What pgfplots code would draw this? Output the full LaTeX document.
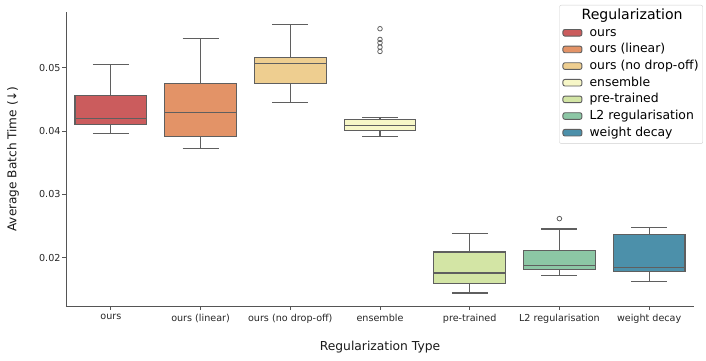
\documentclass[border=0pt]{standalone}
\usepackage{fontspec}
\setmainfont{DejaVu Sans}
\usepackage{pgfplots}
\pgfplotsset{compat=1.18}

% seaborn Spectral, desaturated to 0.75
\definecolor{cOurs}{RGB}{203,92,93}
\definecolor{cLin}{RGB}{227,147,103}
\definecolor{cNoDrop}{RGB}{238,206,144}
\definecolor{cEns}{RGB}{247,247,199}
\definecolor{cPre}{RGB}{211,229,165}
\definecolor{cL2}{RGB}{140,199,165}
\definecolor{cWD}{RGB}{76,144,170}
\definecolor{edge}{RGB}{95,95,95}
\definecolor{spine}{RGB}{85,85,85}

\pgfplotsset{
    boxbody/.style={draw=edge, line width=1.1bp, line join=miter, forget plot},
    boxline/.style={draw=edge, line width=1.1bp, unbounded coords=jump, forget plot},
}

\begin{document}
\begin{tikzpicture}
\begin{axis}[
    at={(0,0)}, anchor=south west,
    scale only axis,
    width=628bp, height=294bp,
    xmin=-0.5, xmax=6.5,
    ymin=0.0124, ymax=0.0588,
    axis x line*=bottom, axis y line*=left,
    axis line style={-, draw=spine, line width=0.9bp},
    tick style={draw=spine, line width=0.9bp},
    tick align=outside, major tick length=3.5bp,
    xtick={0,1,2,3,4,5,6},
    xticklabels={ours, ours (linear), ours (no drop-off), ensemble, pre-trained, L2 regularisation, weight decay},
    xticklabel style={yshift=-1.5bp},
    ytick={0.02,0.03,0.04,0.05},
    yticklabel style={/pgf/number format/fixed, /pgf/number format/fixed zerofill,
        /pgf/number format/precision=2, /pgf/number format/assume math mode=true, xshift=1.5bp},
    scaled y ticks=false,
    tick label style={font=\fontsize{9.6bp}{11bp}\selectfont, text=black!85},
    xlabel={Regularization Type},
    ylabel={Average Batch Time (↓)},
    every axis x label/.style={at={(axis description cs:0.5,-0.139)}, anchor=center,
        font=\fontsize{12.3bp}{14bp}\selectfont, text=black!90},
    every axis y label/.style={at={(axis description cs:-0.0844,0.5)}, rotate=90, anchor=center,
        font=\fontsize{12.1bp}{14bp}\selectfont, text=black!90},
    legend style={
        at={(axis description cs:1.0143,1.024)}, anchor=north east,
        draw=black!18, rounded corners=2bp, fill=white,
        font=\fontsize{12.4bp}{14bp}\selectfont,
        inner xsep=3bp, inner ysep=3.8bp,
        nodes={inner sep=1.2bp, text height=9.4bp, text depth=2.6bp},
        row sep=2.25bp,
        /tikz/every odd column/.append style={column sep=6bp},
    },
    legend cell align=left,
    legend image code/.code={\draw[#1, line width=0.9bp] (0bp,-3.3bp) rectangle (19bp,3.3bp);},
]

% boxes: quartiles q1..q3, width 0.8 around each position
\addplot[boxbody, fill=cOurs]   coordinates {(-0.4,0.04100) (0.4,0.04100) (0.4,0.04558) (-0.4,0.04558) (-0.4,0.04100)};
\addplot[boxbody, fill=cLin]    coordinates {(0.6,0.03910) (1.4,0.03910) (1.4,0.04757) (0.6,0.04757) (0.6,0.03910)};
\addplot[boxbody, fill=cNoDrop] coordinates {(1.6,0.04747) (2.4,0.04747) (2.4,0.05158) (1.6,0.05158) (1.6,0.04747)};
\addplot[boxbody, fill=cEns]    coordinates {(2.6,0.04010) (3.4,0.04010) (3.4,0.04178) (2.6,0.04178) (2.6,0.04010)};
\addplot[boxbody, fill=cPre]    coordinates {(3.6,0.01592) (4.4,0.01592) (4.4,0.02093) (3.6,0.02093) (3.6,0.01592)};
\addplot[boxbody, fill=cL2]     coordinates {(4.6,0.01809) (5.4,0.01809) (5.4,0.02114) (4.6,0.02114) (4.6,0.01809)};
\addplot[boxbody, fill=cWD]     coordinates {(5.6,0.01787) (6.4,0.01787) (6.4,0.02367) (5.6,0.02367) (5.6,0.01787)};

% medians
\addplot[boxline] coordinates {
    (-0.4,0.04194) (0.4,0.04194) (nan,nan)
    (0.6,0.04289) (1.4,0.04289) (nan,nan)
    (1.6,0.05063) (2.4,0.05063) (nan,nan)
    (2.6,0.04088) (3.4,0.04088) (nan,nan)
    (3.6,0.01761) (4.4,0.01761) (nan,nan)
    (4.6,0.01882) (5.4,0.01882) (nan,nan)
    (5.6,0.01850) (6.4,0.01850)
};

% whiskers (box edge to whisker end) and caps of width 0.4
\addplot[boxline] coordinates {
    (0,0.04558) (0,0.05050) (nan,nan) (-0.2,0.05050) (0.2,0.05050) (nan,nan)
    (0,0.04100) (0,0.03962) (nan,nan) (-0.2,0.03962) (0.2,0.03962) (nan,nan)
    (1,0.04757) (1,0.05463) (nan,nan) (0.8,0.05463) (1.2,0.05463) (nan,nan)
    (1,0.03910) (1,0.03730) (nan,nan) (0.8,0.03730) (1.2,0.03730) (nan,nan)
    (2,0.05158) (2,0.05679) (nan,nan) (1.8,0.05679) (2.2,0.05679) (nan,nan)
    (2,0.04747) (2,0.04447) (nan,nan) (1.8,0.04447) (2.2,0.04447) (nan,nan)
    (3,0.04178) (3,0.04220) (nan,nan) (2.8,0.04220) (3.2,0.04220) (nan,nan)
    (3,0.04010) (3,0.03915) (nan,nan) (2.8,0.03915) (3.2,0.03915) (nan,nan)
    (4,0.02093) (4,0.02387) (nan,nan) (3.8,0.02387) (4.2,0.02387) (nan,nan)
    (4,0.01592) (4,0.01445) (nan,nan) (3.8,0.01445) (4.2,0.01445) (nan,nan)
    (5,0.02114) (5,0.02456) (nan,nan) (4.8,0.02456) (5.2,0.02456) (nan,nan)
    (5,0.01809) (5,0.01719) (nan,nan) (4.8,0.01719) (5.2,0.01719) (nan,nan)
    (6,0.02367) (6,0.02472) (nan,nan) (5.8,0.02472) (6.2,0.02472) (nan,nan)
    (6,0.01787) (6,0.01629) (nan,nan) (5.8,0.01629) (6.2,0.01629)
};

% outliers
\addplot[only marks, mark=o, mark size=2.3bp, mark options={draw=edge, line width=0.8bp}, forget plot]
    coordinates {(3,0.05616) (3,0.05447) (3,0.05395) (3,0.05325) (3,0.05257) (5,0.02619)};

\addlegendimage{empty legend}
\addlegendentry[font=\fontsize{14.1bp}{16bp}\selectfont]{\hspace{-8bp}Regularization}
\addlegendimage{draw=edge, fill=cOurs}\addlegendentry{ours}
\addlegendimage{draw=edge, fill=cLin}\addlegendentry{ours (linear)}
\addlegendimage{draw=edge, fill=cNoDrop}\addlegendentry{ours (no drop-off)}
\addlegendimage{draw=edge, fill=cEns}\addlegendentry{ensemble}
\addlegendimage{draw=edge, fill=cPre}\addlegendentry{pre-trained}
\addlegendimage{draw=edge, fill=cL2}\addlegendentry{L2 regularisation}
\addlegendimage{draw=edge, fill=cWD}\addlegendentry{weight decay}
\end{axis}
\pgfresetboundingbox
\path (-66bp,-55bp) rectangle (640bp,306bp);
\end{tikzpicture}
\end{document}
